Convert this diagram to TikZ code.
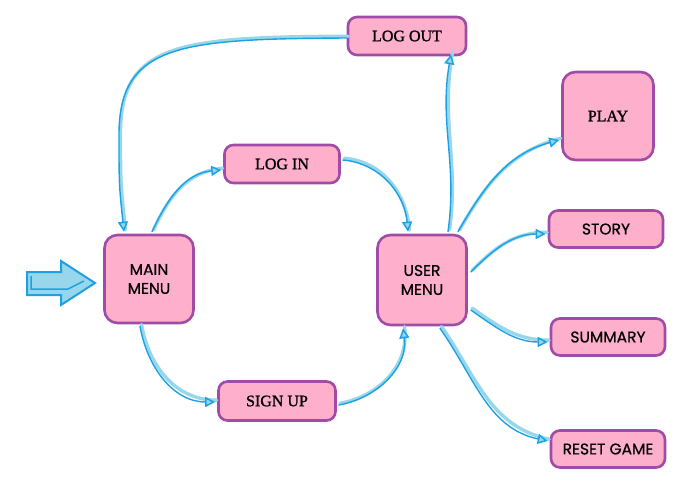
\documentclass[tikz,border=0pt]{standalone}
\usepackage{fontspec}
\setmainfont{Liberation Serif}[FakeBold=1.5]
\newfontfamily\serifb{Liberation Serif}[FakeBold=1.2]
\newfontfamily\casual{Poppins}[FakeBold=0.6]
\usetikzlibrary{arrows.meta,calc}
\definecolor{boxfill}{HTML}{FDAFCB}
\definecolor{boxline}{HTML}{A04CA6}
\definecolor{lblue}{HTML}{98D6EC}
\definecolor{dblue}{HTML}{1CA2E2}
\tikzset{
  box/.style={draw=boxline, fill=boxfill, line width=2.6pt, rounded corners=9pt,
    inner sep=0pt, align=center, font=\serifb\fontsize{16}{18}\selectfont},
  bigbox/.style={box, minimum width=89pt, minimum height=88pt, rounded corners=13pt},
  smallbox/.style={box, minimum width=114pt, minimum height=37pt},
  cas/.style={font=\casual\fontsize{15.5}{19}\selectfont},
  lite/.style={draw=lblue, line width=3.4pt, line cap=round, transform canvas={shift={(1.5pt,1.8pt)}}},
  dark/.style={draw=dblue, line width=1.4pt, line cap=round,
    -{Triangle[open, fill=lblue, length=10pt, width=10pt, line width=1.5pt]}},
}
\newcommand\conn[1]{\draw[lite] #1; \draw[dark] #1;}
\begin{document}
\begin{tikzpicture}[x=1pt,y=-1pt]
\useasboundingbox (0,0) rectangle (683,487);
% nodes
\node[smallbox, minimum width=118pt, minimum height=38pt] (logout) at (407,36) {LOG OUT};
\node[bigbox, minimum width=91pt] (play) at (608,116) {PLAY};
\node[smallbox, minimum width=115pt, minimum height=38pt] (login) at (282,164) {LOG IN};
\node[smallbox, cas] (story) at (606,229) {STORY};
\node[bigbox, cas] (main) at (149,279) {MAIN\\MENU};
\node[bigbox, cas, minimum height=90pt] (user) at (422,280) {USER\\MENU};
\node[smallbox, cas] (summary) at (608,337) {SUMMARY};
\node[smallbox, minimum width=117pt, minimum height=39pt] (signup) at (277,401) {SIGN UP};
\node[smallbox, cas] (reset) at (608,449) {RESET GAME};
% input arrow
\draw[draw=dblue, fill=lblue, line width=2pt, line join=miter]
  (27,272) -- (61,272) -- (61,261) -- (95,283) -- (61,305) -- (61,295) -- (27,295) -- cycle;
\draw[dblue, line width=1.5pt] (31,276) -- (31,289) -- (68,289) -- (84,281);
% connectors
\coordinate (bend) at (119,135);
\conn{($(logout.west)+(0,2)$) .. controls (180,39) and (119,44) .. (bend) .. controls (119,185) .. ($(main.north)+(-25,-2)$)}
\conn{($(main.north)+(3,-2)$) to[out=65,in=185] ($(login.west)+(-2,6)$)}
\conn{($(login.east)+(2,-4)$) to[out=-5,in=95] ($(user.north)+(-14,-2)$)}
\conn{($(main.south)+(-9,2)$) to[out=-80,in=180] ($(signup.west)+(-2,1)$)}
\conn{($(signup.east)+(2,4)$) to[out=10,in=-82] ($(user.south)+(-19,2)$)}
\conn{($(user.north)+(26,-2)$) to[out=82,in=-100] ($(logout.south)+(44,-2)$)}
\conn{($(user.north)+(36,-2)$) to[out=60,in=195] ($(play.west)+(-2,24)$)}
\conn{($(user.east)+(3,-8)$) to[out=45,in=180] ($(story.west)+(-2,5)$)}
\conn{($(user.east)+(3,30)$) to[out=-35,in=180] ($(summary.west)+(-2,5)$)}
\conn{($(user.south)+(18,2)$) to[out=-55,in=168] ($(reset.west)+(-2,-8)$)}
\end{tikzpicture}
\end{document}
